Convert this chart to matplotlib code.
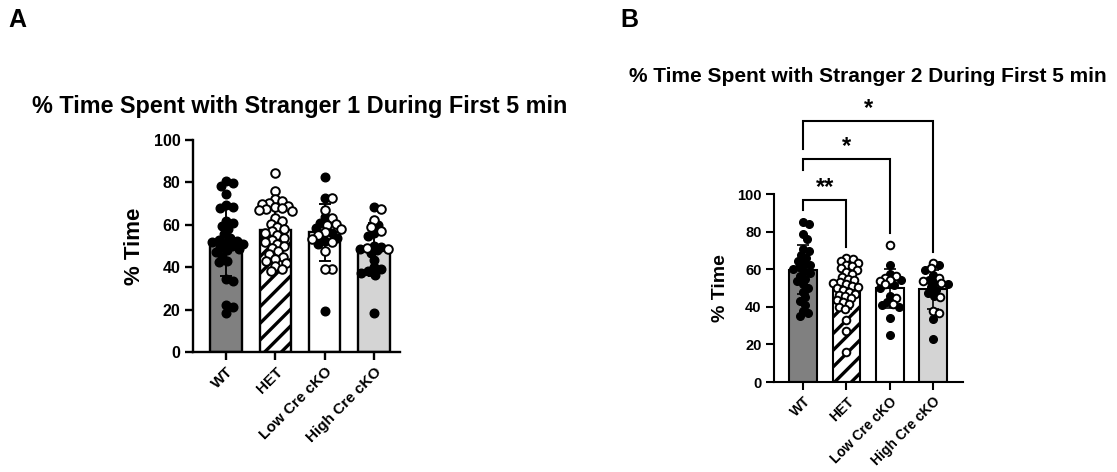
import numpy as np
import matplotlib
matplotlib.use("Agg")
import matplotlib.pyplot as plt

plt.rcParams["font.family"] = ["Liberation Sans", "DejaVu Sans"]
plt.rcParams["font.weight"] = "bold"
plt.rcParams["hatch.linewidth"] = 2.4

groups = ["WT", "HET", "Low Cre cKO", "High Cre cKO"]

# Stranger 1, % time during first 5 min (filled = one sex, open = the other)
s1_wt_filled = [80.5, 79.5, 78.5, 74.5, 69.5, 68.5, 68, 62, 61, 59.5, 58, 55.5, 54, 53,
                52.5, 52, 51.5, 51, 50, 49.5, 48.5, 48, 47, 45.5, 43, 42.5, 34.5, 33.5,
                22, 21, 18.5]
s1_wt_open = []
s1_het_filled = []
s1_het_open = [84.5, 76, 72, 71, 70.5, 70, 69, 68.5, 68, 67.5, 67, 66.5, 63, 62, 60.5,
               59, 58, 57, 56, 55, 54, 53, 52, 51, 50, 49, 47.5, 46, 45, 44, 43, 42,
               40.5, 39, 38]
s1_low_filled = [82.5, 72.5, 63.5, 61, 58.5, 56, 54, 52.5, 51, 19.5]
s1_low_open = [72.5, 67, 63, 60.5, 60, 58, 56.5, 55, 53.5, 52, 47.5, 39, 39]
s1_high_filled = [68.5, 60, 56, 54.5, 50, 49.5, 48.5, 48, 46.5, 43.5, 40, 39, 38, 37.5,
                  36.5, 18.5]
s1_high_open = [67.5, 62.5, 59, 57, 48.5, 49]
s1_mean = [52.5, 57.5, 56.5, 48.5]
s1_sd = [16.5, 11.5, 13.5, 12.5]

# Stranger 2, % time during first 5 min
s2_wt_filled = [85, 84, 78.5, 76, 70.5, 69.5, 67.5, 66, 64.5, 63, 62, 61, 60, 59, 58,
                56.5, 55, 53.5, 52, 50, 48, 45, 43, 41, 38, 36.5, 35]
s2_wt_open = []
s2_het_filled = []
s2_het_open = [66, 65.5, 64.5, 63.5, 62.5, 61.5, 60.5, 59.5, 58.5, 57.5, 56, 55, 54, 53,
               52.5, 52, 51, 50.5, 50, 49, 48, 47, 46.5, 45.5, 44.5, 43.5, 42.5, 41.5,
               40, 39, 33, 27, 16]
s2_low_filled = [62, 57.5, 54.5, 51.5, 50, 45.5, 42.5, 41, 40, 34, 25]
s2_low_open = [73, 56.5, 55.5, 54, 53.5, 52, 44.5, 41.5]
s2_high_filled = [62, 59.5, 57, 54.5, 53, 52, 50.5, 49, 47.5, 46, 33.5, 23]
s2_high_open = [63.5, 60.5, 55.5, 53.5, 52.5, 45, 38, 36.5]
s2_mean = [59.8, 49.6, 49.8, 49.3]
s2_sd = [13.0, 11.0, 10.5, 10.5]

# Pairwise comparisons for stranger 2: (group a, group b, label)
s2_comparisons = [(0, 1, "**"), (0, 2, "*"), (0, 3, "*")]

bar_colors = ["#808080", "white", "white", "#d4d4d4"]
bar_hatches = ["", "//", "", ""]


def swarm_offsets(ax, xc, values, diam_px, max_half_px):
    """Beeswarm-style horizontal offsets (data units) so markers do not pile up."""
    to_px = ax.transData.transform
    x0 = to_px((xc, 0))[0]
    px_per_x = to_px((xc + 1, 0))[0] - x0
    ypx = np.array([to_px((0, v))[1] for v in values])
    order = np.argsort(-np.asarray(values))
    placed = []
    offs = np.zeros(len(values))
    step = 0.5
    cands = [0.0]
    k = 1
    while k * step <= max_half_px:
        cands += [k * step, -k * step]
        k += 1
    for i in order:
        best, best_d = 0.0, -1
        for c in cands:
            dmin = np.inf
            for (px, py) in placed:
                dmin = min(dmin, np.hypot(px - c, py - ypx[i]))
            if dmin >= diam_px:
                best = c
                break
            if dmin > best_d:
                best_d, best = dmin, c
        placed.append((best, ypx[i]))
        offs[i] = best / px_per_x
    return offs


def draw_panel(ax, data, means, sds, xlim, ms, fs_tick, fs_xtick, fs_label, lw):
    ax.set_xlim(*xlim)
    ax.set_ylim(0, 100)
    x = np.arange(len(groups))
    bars = ax.bar(x, means, width=0.64, color=bar_colors, edgecolor="black",
                  linewidth=lw, zorder=1)
    for b, h in zip(bars, bar_hatches):
        b.set_hatch(h)
    ax.errorbar(x, means, yerr=sds, fmt="none", ecolor="black", elinewidth=lw * 0.8,
                capsize=4.5, capthick=lw * 0.8, zorder=2)
    diam_px = ms * 100 / 72
    for i, (filled, opened) in enumerate(data):
        vals = list(filled) + list(opened)
        offs = swarm_offsets(ax, x[i], vals, diam_px * 0.8, 17)
        nf = len(filled)
        if nf:
            ax.scatter(x[i] + offs[:nf], filled, s=ms ** 2, facecolor="black",
                       edgecolor="black", linewidths=1.0, zorder=3, clip_on=False)
        if len(opened):
            ax.scatter(x[i] + offs[nf:], opened, s=ms ** 2, facecolor="white",
                       edgecolor="black", linewidths=1.4, zorder=3, clip_on=False)
    for s in ("top", "right"):
        ax.spines[s].set_visible(False)
    for s in ("left", "bottom"):
        ax.spines[s].set_linewidth(lw)
    ax.set_yticks(np.arange(0, 101, 20))
    ax.set_xticks(x)
    ax.set_xticklabels(groups, rotation=45, ha="right", rotation_mode="anchor",
                       fontsize=fs_xtick, fontweight="bold")
    ax.tick_params(axis="both", direction="out", length=6, width=lw, pad=3)
    ax.tick_params(axis="y", labelsize=fs_tick)
    ax.set_ylabel("% Time", fontsize=fs_label, fontweight="bold", labelpad=6)


fig = plt.figure(figsize=(11.17, 4.72), dpi=100)
W, H = 1117, 472

axA = fig.add_axes([193 / W, 1 - 352 / H, (400 - 193) / W, (352 - 140) / H])
draw_panel(axA,
           [(s1_wt_filled, s1_wt_open), (s1_het_filled, s1_het_open),
            (s1_low_filled, s1_low_open), (s1_high_filled, s1_high_open)],
           s1_mean, s1_sd, (-0.67, 3.53), ms=6.2, fs_tick=11.5, fs_xtick=11,
           fs_label=16, lw=1.7)

axB = fig.add_axes([774 / W, 1 - 382 / H, (963 - 774) / W, (382 - 194) / H])
draw_panel(axB,
           [(s2_wt_filled, s2_wt_open), (s2_het_filled, s2_het_open),
            (s2_low_filled, s2_low_open), (s2_high_filled, s2_high_open)],
           s2_mean, s2_sd, (-0.67, 3.69), ms=5.5, fs_tick=10.5, fs_xtick=10,
           fs_label=14, lw=1.5)

# Significance brackets: crossbar height, left/right leg ends
bracket_top = [97, 118.5, 139]
bracket_left_end = [91.5, 112.8, 124]
bracket_right_end = [72, 79, 69]
for (a, b, lab), top, le, re in zip(s2_comparisons, bracket_top, bracket_left_end,
                                    bracket_right_end):
    axB.plot([a, a, b, b], [le, top, top, re], color="black", lw=1.5,
             clip_on=False, solid_joinstyle="miter", zorder=4)
    axB.text((a + b) / 2, top + 0.5, lab, ha="center", va="bottom", fontsize=17,
             fontweight="bold", clip_on=False)

fig.text(300 / W, 1 - 106 / H, "% Time Spent with Stranger 1 During First 5 min",
         ha="center", va="center", fontsize=16.8, fontweight="bold")
fig.text(868 / W, 1 - 76 / H, "% Time Spent with Stranger 2 During First 5 min",
         ha="center", va="center", fontsize=15, fontweight="bold")
fig.text(8 / W, 1 - 8 / H, "A", ha="left", va="top", fontsize=18, fontweight="bold")
fig.text(620 / W, 1 - 8 / H, "B", ha="left", va="top", fontsize=18, fontweight="bold")

fig.savefig("out.png", dpi=100)
